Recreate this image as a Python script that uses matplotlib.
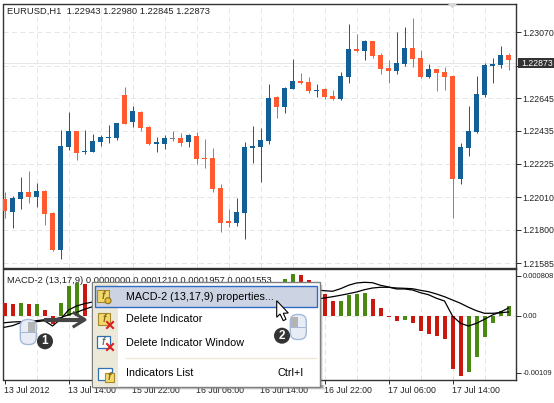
import numpy as np
import matplotlib
matplotlib.use("Agg")
import matplotlib.pyplot as plt
from matplotlib.patches import Rectangle, Polygon, Circle, FancyBboxPatch

W, H = 554, 403
FONT = "Liberation Sans"
plt.rcParams['font.family'] = FONT

highs = [1.22046,1.22018,1.22140,1.22178,1.22101,1.22056,1.21915,1.22441,1.22557,1.22435,1.22441,1.22416,1.22409,1.22473,1.22486,1.22717,
         1.22595,1.22563,1.22467,1.22396,1.22409,1.22435,1.22422,1.22416,1.22428,1.22383,1.22326,1.22095,1.21935,1.22005,1.22364,1.22467,
         1.22454,1.22736,1.22659,1.22717,1.22897,1.22807,1.22781,1.22736,1.22711,1.22698,1.22813,1.23121,1.23057,1.23018,1.23012,1.22935,
         1.22890,1.23070,1.23102,1.23160,1.22954,1.22864,1.22832,1.22845,1.22794,1.22358,1.22595,1.22787,1.22871,1.22903,1.22980,1.22935]
tops = [1.21999,1.22005,1.22044,1.22044,1.22050,1.22050,1.21909,1.22339,1.22435,1.22435,1.22307,1.22371,1.22396,1.22398,1.22486,1.22666,
        1.22563,1.22557,1.22460,1.22364,1.22390,1.22390,1.22390,1.22409,1.22403,1.22262,1.22262,1.22069,1.21858,1.21915,1.22332,1.22339,
        1.22377,1.22646,1.22653,1.22711,1.22755,1.22755,1.22749,1.22698,1.22704,1.22659,1.22787,1.22961,1.22961,1.23012,1.23012,1.22922,
        1.22839,1.22871,1.22967,1.22967,1.22903,1.22832,1.22832,1.22813,1.22787,1.22332,1.22435,1.22672,1.22858,1.22864,1.22922,1.22922]
bottoms = [1.21922,1.21915,1.21999,1.22011,1.22011,1.21902,1.21672,1.21672,1.22332,1.22294,1.22300,1.22300,1.22364,1.22392,1.22390,1.22480,
           1.22492,1.22454,1.22351,1.22353,1.22351,1.22383,1.22358,1.22364,1.22255,1.22255,1.22063,1.21845,1.21845,1.21845,1.21909,1.22326,
           1.22332,1.22371,1.22589,1.22589,1.22704,1.22743,1.22691,1.22691,1.22653,1.22640,1.22640,1.22781,1.22948,1.22948,1.22916,1.22832,
           1.22820,1.22820,1.22864,1.22897,1.22781,1.22781,1.22807,1.22781,1.22127,1.22127,1.22326,1.22428,1.22666,1.22852,1.22858,1.22890]
lows = [1.21877,1.21813,1.21935,1.21973,1.21947,1.21832,1.21665,1.21614,1.22313,1.22249,1.22287,1.22300,1.22339,1.22358,1.22377,1.22480,
        1.22460,1.22435,1.22345,1.22300,1.22319,1.22371,1.22339,1.22332,1.22223,1.22197,1.22044,1.21787,1.21819,1.21825,1.21742,1.22230,
        1.22108,1.22351,1.22518,1.22550,1.22704,1.22736,1.22678,1.22653,1.22640,1.22634,1.22634,1.22743,1.22941,1.22890,1.22903,1.22800,
        1.22743,1.22800,1.22852,1.22845,1.22775,1.22775,1.22691,1.22698,1.21877,1.22095,1.22274,1.22422,1.22653,1.22743,1.22839,1.22826]
kinds = list("OBBOBOOB" "BOBBBBBO" "BOOBBGOB" "OOOOOBBB" "BBOBBOOB" "OOBBOBOO" "OBBOOBOO" "OBBBBBBO")

price_ticks = [1.23070, 1.22855, 1.22645, 1.22435, 1.22225, 1.22010, 1.21800, 1.21585]
price_labels = ["1.23070", "", "1.22645", "1.22435", "1.22225", "1.22010", "1.21800", "1.21585"]
last_price = 1.22873
header = "EURUSD,H1  1.22943 1.22980 1.22845 1.22873"

bar_idx = [0,1,2,3,4,5,6,7,8,9,10, 35,36,37,38, 40,41,42,43,44,45,46,47,48,49,50,51,52,53,54,55,56,57,58,59,60,61,62,63]
bar_vals = [247,240,254,240,240,117,-156,254,585,644,631,
            728,819,800,702,
            429,293,293,410,429,449,332,156,-20,-98,-78,-137,-293,-351,-390,-449,-1034,-1170,-1092,-800,-410,-137,98,195]
bar_kind = list("RRGRGRRGGGR" "GGRR" "RRGGGGRRRRGRRRRRRRGGGGGG")

left_idx = [0,1,2,3,4,5,6,7,8,9,10,11]
left_fast = [-220,-189,-131,-123,-111,-92,-195,-64,117,195,240,273]
left_signal = [-131,-117,-111,-98,-92,-72,-64,-33,25,72,131,181]
right_idx = list(range(39, 64))
right_fast = [507,493,482,532,599,644,657,649,599,566,527,527,507,454,415,345,293,0,-142,-195,-142,-64,20,78,156]
right_signal = [331,351,376,404,435,468,513,546,560,560,546,540,532,501,474,429,376,312,248,170,103,53,53,64,78]

macd_ticks = [786, 0, -1111]
macd_labels = ["0.000808", "0.00", "-0.00109"]
macd_title = "MACD-2 (13,17,9) 0.0000000 0.0001210 0.0001957 0.0001553"

time_idx = [0, 8, 16, 24, 32, 40, 48, 56]
time_labels = ["13 Jul 2012", "13 Jul 14:00", "15 Jul 22:00", "16 Jul 06:00", "16 Jul 14:00",
               "16 Jul 22:00", "17 Jul 06:00", "17 Jul 14:00"]
grid_idx = list(range(4, 64, 4))

menu_items = ["MACD-2 (13,17,9) properties...", "Delete Indicator", "Delete Indicator Window", "Indicators List"]
menu_shortcut = "Ctrl+I"

BLUE, ORANGE, GRAY = "#135f96", "#ff5a30", "#808080"
RED, GREEN = "#c81810", "#4a8a10"
AX = "#333333"
GRID = "#e6e6e6"

def px_axes(fig, x0, y0, x1, y1):
    return fig.add_axes([x0 / W, 1 - y1 / H, (x1 - x0) / W, (y1 - y0) / H])

fig = plt.figure(figsize=(W / 100, H / 100), dpi=100, facecolor="white")
XL = (-0.125, 63.875)
lw1 = 0.72
tick_fs = 8.8 * 0.72
head_fs = 9.4 * 0.72
menu_fs = 10.7 * 0.72
DASH = (0, (5, 3.5))

# ---- price panel
ax = px_axes(fig, 3.5, 3.5, 515.5, 267.5)
ax.set_xlim(*XL)
ax.set_ylim(1.21559, 1.23253)
ax.set_yticks(price_ticks)
ax.set_yticklabels(price_labels, fontsize=tick_fs, color="#222222")
ax.yaxis.tick_right()
ax.set_xticks([])
ax.tick_params(axis='y', length=3.5, width=lw1, color=AX, pad=1.5)
for k in grid_idx:
    ax.axvline(k, color=GRID, lw=lw1, ls=DASH, zorder=1)
for p in price_ticks:
    ax.axhline(p, color=GRID, lw=lw1, ls=DASH, zorder=1)
ax.axhline(last_price, color=GRID, lw=lw1, zorder=1)
cmap = {"O": ORANGE, "B": BLUE, "G": GRAY}
xs = np.arange(len(highs))
cols = [cmap[c] for c in kinds]
ax.vlines(xs, lows, highs, colors=cols, lw=lw1, zorder=3)
ax.bar(xs, np.array(tops) - np.array(bottoms), bottom=bottoms, width=0.625, color=cols, lw=0, zorder=4)
for s in ax.spines.values():
    s.set_color(AX)
    s.set_linewidth(1.0)
ax.text(0.0069, 0.9705, header, transform=ax.transAxes, fontsize=head_fs, color="#222222",
        va="center", ha="left")

# ---- MACD panel
scale = 19.5
axm = px_axes(fig, 3.5, 269, 515.5, 380)
axm.set_xlim(*XL)
axm.set_ylim((316 - 380) * scale, (316 - 269) * scale)
axm.set_yticks(macd_ticks)
axm.set_yticklabels(macd_labels, fontsize=7.7 * 0.72, color="#222222")
axm.yaxis.tick_right()
axm.tick_params(axis='y', length=3.5, width=lw1, color=AX, pad=1.5)
axm.set_xticks(time_idx)
axm.set_xticklabels(time_labels, fontsize=tick_fs, color="#222222", ha="left")
axm.tick_params(axis='x', length=3, width=lw1, color=AX, pad=1)
for k in grid_idx:
    axm.axvline(k, color=GRID, lw=lw1, ls=DASH, zorder=1)
axm.axhline(0, color=GRID, lw=lw1, ls=DASH, zorder=1)
bar_cols = [RED if c == "R" else GREEN for c in bar_kind]
axm.bar(bar_idx, bar_vals, width=0.5, color=bar_cols, lw=0, zorder=3)
for xv, yv in [(left_idx, left_fast), (left_idx, left_signal), (right_idx, right_fast), (right_idx, right_signal)]:
    axm.plot(xv, yv, color="black", lw=0.9, zorder=4)
for s in axm.spines.values():
    s.set_color(AX)
    s.set_linewidth(1.0)
axm.text(0.0069, 0.9, macd_title, transform=axm.transAxes, fontsize=head_fs, color="#222222",
         va="center", ha="left", zorder=5)

# ---- overlay in pixel coordinates (price tag, menu, cursor, mouse icons)
ov = fig.add_axes([0, 0, 1, 1], zorder=10)
ov.set_xlim(0, W)
ov.set_ylim(H, 0)
ov.axis("off")
ov.patch.set_alpha(0)

ov.add_patch(Polygon([(448, 4), (457, 4), (452.5, 8.5)], closed=True, fc="#d8d8d8", ec="none"))
ov.add_patch(Rectangle((517.5, 58), 37, 10, fc="#333333", ec="none"))
ov.text(521.3, 63, f"{last_price:.5f}", color="white", fontsize=tick_fs, va="center", ha="left")

for i, a in enumerate([0.45, 0.3, 0.15]):
    ov.add_patch(Rectangle((95, 385), 228 + i, 3 + i, fc="#808080", alpha=a, ec="none"))
    ov.add_patch(Rectangle((320, 285), 1 + i, 103, fc="#808080", alpha=a, ec="none"))
ov.add_patch(Rectangle((91.7, 282), 228, 105, fc="white", ec="#7f7f7f", lw=1.0))
ov.add_patch(Rectangle((92.5, 283), 25.5, 103.5, fc="#ece9d8", ec="none"))
ov.add_patch(Rectangle((94.5, 285.5), 222.5, 21.5, fc="#ccd4e4", ec="#316ac5", lw=1.0))
ov.plot([126, 316], [358, 358], color="#ece9d8", lw=1.0)

item_y = [297.2, 319.2, 342.5, 373.2]
for s, y in zip(menu_items, item_y):
    ov.text(126.5, y, s, color="black", fontsize=menu_fs, va="center", ha="left")
ov.text(304, 373.2, menu_shortcut, color="black", fontsize=menu_fs, va="center", ha="right")

def gold(x, y, w, h):
    ov.add_patch(Rectangle((x, y), w, h, fc="#f3d86c", ec="#a8882c", lw=0.8))
    ov.text(x + w / 2, y + h / 2, "f", fontsize=7, style="italic", weight="bold", color="#806a20", ha="center", va="center")
def redx(x, y):
    ov.plot([x - 3, x + 3], [y - 3, y + 3], color="#e02020", lw=1.5)
    ov.plot([x - 3, x + 3], [y + 3, y - 3], color="#e02020", lw=1.5)
gold(97, 290, 12, 12)
ov.add_patch(Circle((108, 300.7), 3, fc="#e8c040", ec="#907020", lw=0.8))
gold(98, 313, 12, 12)
redx(110, 325)
ov.add_patch(Rectangle((97, 336), 13, 12, fc="white", ec="#3070b0", lw=0.9))
ov.text(103.5, 342, "f", fontsize=7, style="italic", weight="bold", color="#707070", ha="center", va="center")
redx(110, 347)
ov.add_patch(Rectangle((98, 368), 14, 12, fc="white", ec="#3070b0", lw=0.9))
gold(105, 373, 9, 8.5)

def mouse(cx, cy, shade_left):
    ov.add_patch(FancyBboxPatch((cx - 8, cy - 12.5), 16, 25, boxstyle="round,pad=0,rounding_size=7",
                                fc="#e8edf5", ec="#a4b8d8", lw=1.0, zorder=6))
    x0 = cx - 7 if shade_left else cx
    ov.add_patch(Rectangle((x0, cy - 10), 7, 9.5, fc="#b4b4b4", ec="none", zorder=7))
    ov.plot([cx - 8, cx + 8], [cy - 0.5, cy - 0.5], color="#a4b8d8", lw=0.7, zorder=7)
mouse(28.3, 332, False)
mouse(298.3, 327, True)
def badge(cx, cy, s):
    ov.add_patch(Circle((cx, cy), 8, fc="#333333", ec="none", zorder=8))
    ov.text(cx, cy, s, color="white", fontsize=8.5, weight="bold", ha="center", va="center", zorder=9)
badge(45, 341.3, "1")
badge(282, 335.7, "2")

ov.plot([44, 84], [319.7, 319.7], color="#444444", lw=3.0, solid_capstyle="butt", zorder=8)
ov.plot([74, 85, 74], [313, 319.7, 326.4], color="#444444", lw=2.2, zorder=8)

ov.add_patch(Polygon([(276.7, 300.7), (276.7, 317.3), (280, 314), (283.3, 320.7), (286, 319.3), (283.3, 313.3), (288.3, 313)],
                     closed=True, fc="white", ec="black", lw=0.8, zorder=9))

fig.savefig("out.png", dpi=100)
